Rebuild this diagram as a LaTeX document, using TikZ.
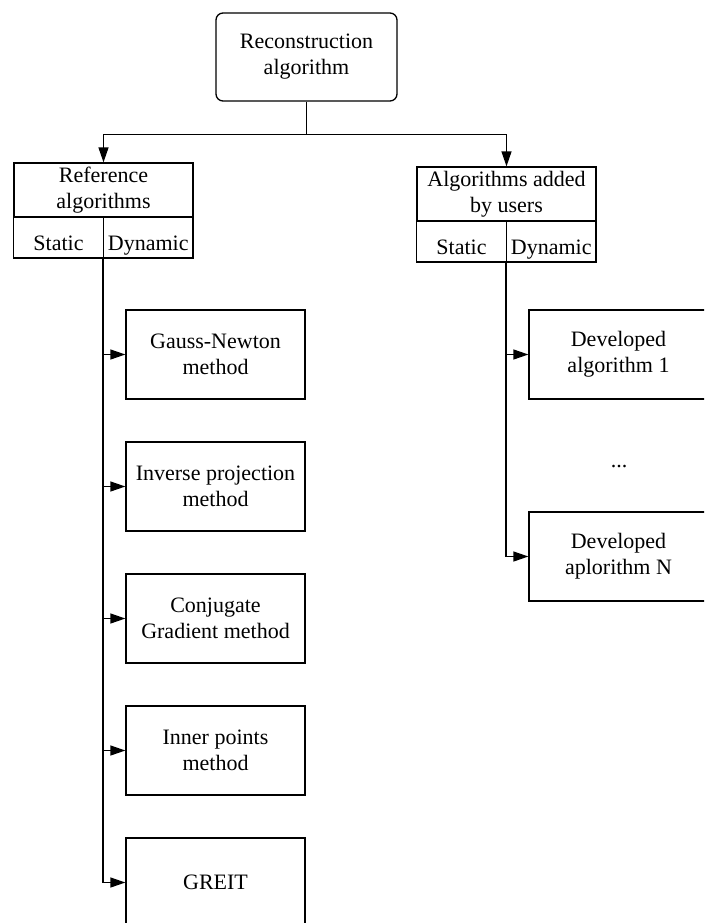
\documentclass[tikz,border=0pt]{standalone}
\usepackage{fontspec}
\setmainfont{Liberation Serif}
\usetikzlibrary{arrows.meta}
\begin{document}
\begin{tikzpicture}[x=1pt, y=-1pt, line width=1.3pt,
    >={Triangle[length=15pt,width=10pt]},
    every node/.style={font=\fontsize{22}{26}\selectfont, inner sep=0pt, align=center},
    box/.style={draw, minimum width=179pt, minimum height=89pt},
    cell/.style={draw, minimum height=41pt, text height=25pt, text depth=0pt},
    head/.style={draw, minimum width=179pt, minimum height=54pt}]
  \useasboundingbox (0,0) rectangle (704,923);
  \clip (0,0) rectangle (704,923);
  \node[draw, rounded corners=7pt, minimum width=181pt, minimum height=88pt] (recon) at (306.5,57) {Reconstruction\\algorithm};
  \node[head] (ref) at (103.5,190) {Reference\\algorithms};
  \node[cell, minimum width=90pt] (refstat) at (58.5,237.5) {Static};
  \node[cell, minimum width=89.5pt] (refdyn) at (148.25,237.5) {Dynamic};
  \node[head] (usr) at (506.5,194) {Algorithms added\\by users};
  \node[cell, minimum width=90pt] (usrstat) at (461.5,241.5) {Static};
  \node[cell, minimum width=89.5pt] (usrdyn) at (551.25,241.5) {Dynamic};
  \node[box] (gn) at (215.5,354.5) {Gauss-Newton\\method};
  \node[box] (inv) at (215.5,486.5) {Inverse projection\\method};
  \node[box] (cg) at (215.5,618.5) {Conjugate\\Gradient method};
  \node[box] (ip) at (215.5,750.5) {Inner points\\method};
  \node[box] (greit) at (215.5,882.5) {GREIT};
  \node[box] (dev1) at (618.5,354.5) {Developed\\algorithm 1};
  \node (dots) at (619,467) {...};
  \node[box] (devn) at (618.5,556.5) {Developed\\aplorithm N};
  \draw (recon.south) -- ++(0,33) coordinate (fork);
  \draw[->] (fork) -| (ref.north);
  \draw[->] (fork) -| (usr.north);
  \draw[->] (refdyn.south west) |- (greit.west);
  \foreach \b in {gn,inv,cg,ip}
    \draw[->] (refdyn.south west |- \b.west) -- (\b.west);
  \draw[->] (usrdyn.south west) |- (devn.west);
  \draw[->] (usrdyn.south west |- dev1.west) -- (dev1.west);
\end{tikzpicture}
\end{document}
